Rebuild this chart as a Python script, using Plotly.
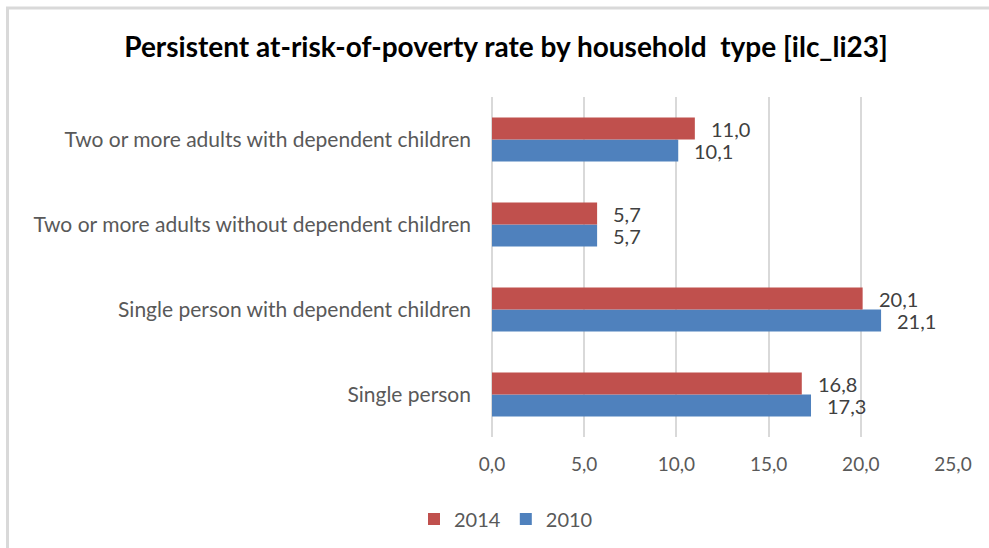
import plotly.graph_objects as go

# Household types, listed bottom to top as they appear on the category axis
categories = [
    "Single person",
    "Single person with dependent children",
    "Two or more adults without dependent children",
    "Two or more adults with dependent children",
]
rate_2014 = [16.8, 20.1, 5.7, 11.0]
rate_2010 = [17.3, 21.1, 5.7, 10.1]
x_ticks = [0, 5, 10, 15, 20, 25]

RED = "#C0504D"
BLUE = "#4F81BD"
GREY_TEXT = "#595959"
GRID = "#D9D9D9"
FONT = "Lato"

W, H = 989, 548
M_L, M_R, M_T, M_B = 492, 36, 97, 111

fig = go.Figure()
fig.add_trace(go.Bar(
    name="2010", y=categories, x=rate_2010, orientation="h",
    marker=dict(color=BLUE, line=dict(width=0)), legendrank=2,
))
fig.add_trace(go.Bar(
    name="2014", y=categories, x=rate_2014, orientation="h",
    marker=dict(color=RED, line=dict(width=0)), legendrank=1,
))

# Value labels to the right of each bar, comma as decimal separator
annotations = []
for vals, shift in ((rate_2014, 11), (rate_2010, -11)):
    for cat, v in zip(categories, vals):
        annotations.append(dict(
            x=v, y=cat, xref="x", yref="y", text=f"{v:.1f}".replace(".", ","),
            showarrow=False, xanchor="left", xshift=14, yshift=shift,
            font=dict(family=FONT, size=20, color="#404040"),
        ))

# Light frame along the left and top edges of the chart
shapes = [
    dict(type="line", xref="paper", yref="paper", xsizemode="pixel", ysizemode="pixel",
         xanchor=0, yanchor=1,
         x0=7.5 - M_L, x1=7.5 - M_L, y0=M_T - 7, y1=M_T - H - 5,
         line=dict(color=GRID, width=3)),
    dict(type="line", xref="paper", yref="paper", xsizemode="pixel", ysizemode="pixel",
         xanchor=0, yanchor=1,
         x0=6 - M_L, x1=W + 5 - M_L, y0=M_T - 8, y1=M_T - 8,
         line=dict(color=GRID, width=3)),
]

fig.update_layout(
    width=W, height=H,
    margin=dict(l=M_L, r=M_R, t=M_T, b=M_B, autoexpand=False),
    paper_bgcolor="white", plot_bgcolor="white",
    separators=",.",
    barmode="group", bargap=0.48, bargroupgap=0,
    title=dict(
        text="<b>Persistent at-risk-of-poverty rate by household  type [ilc_li23]</b>",
        x=506 / W, xanchor="center", xref="container", y=1 - 47 / H, yanchor="middle",
        font=dict(family=FONT, size=28, color="#000000"),
    ),
    xaxis=dict(
        range=[0, 25], tickvals=x_ticks, tickformat=".1f",
        showgrid=True, gridcolor=GRID, gridwidth=2,
        zeroline=True, zerolinecolor=GRID, zerolinewidth=2,
        showline=False, ticks="",
        tickfont=dict(family=FONT, size=19, color=GREY_TEXT),
        ticklabelstandoff=14,
        fixedrange=True,
    ),
    yaxis=dict(
        categoryorder="array", categoryarray=categories,
        showgrid=False, showline=False, ticks="",
        tickfont=dict(family=FONT, size=21, color=GREY_TEXT),
        ticklabelstandoff=20,
        fixedrange=True,
    ),
    legend=dict(
        orientation="h", xref="container", yref="container",
        x=506 / W, xanchor="center", y=1 - 519 / H, yanchor="middle",
        font=dict(family=FONT, size=20, color=GREY_TEXT),
        itemwidth=30,
    ),
    annotations=annotations,
    shapes=shapes,
)

fig.write_html("out.html")
